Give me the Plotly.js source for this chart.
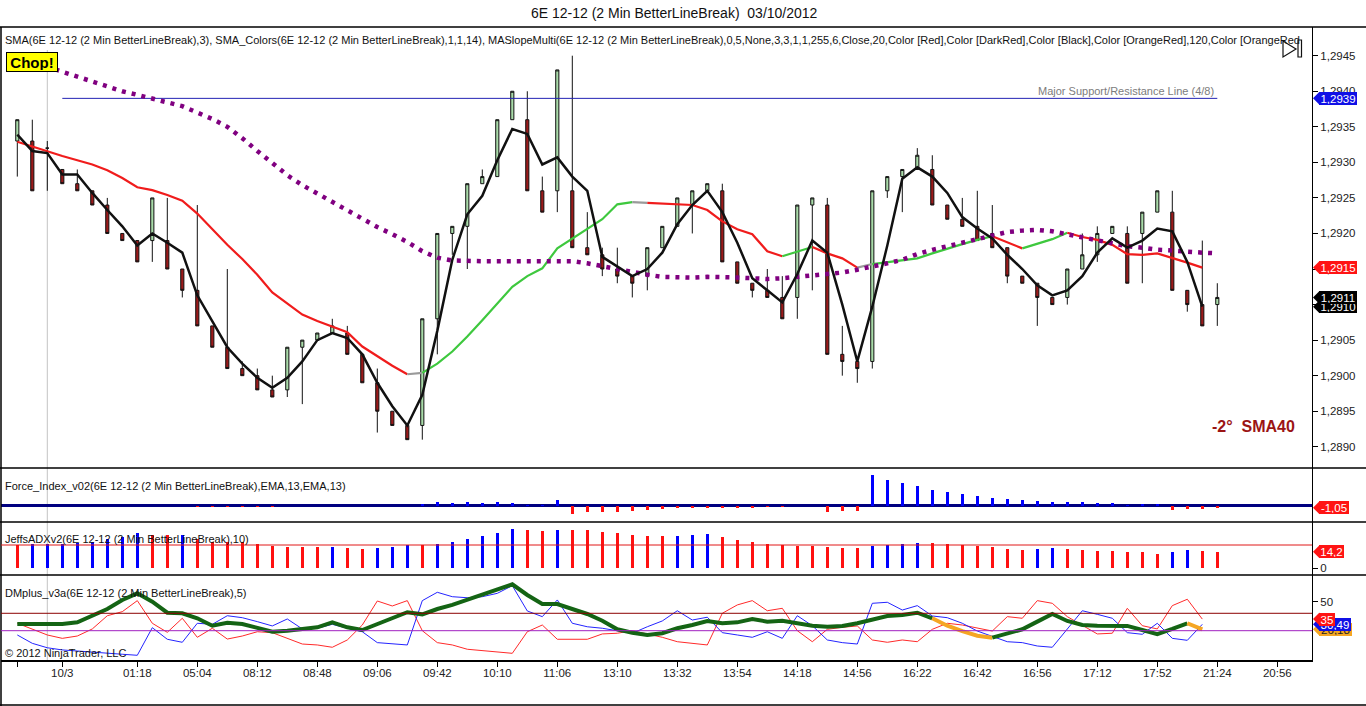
<!DOCTYPE html>
<html>
<head>
<meta charset="utf-8">
<script src="https://cdn.plot.ly/plotly-3.0.1.min.js"></script>
<style>
html,body{margin:0;padding:0;background:#fff;}
#chart{width:1366px;height:706px;}
</style>
</head>
<body>
<div id="chart"></div>
<script>
// ---------------- DATA ----------------
const OPEN  = [1.2933,1.2933,1.2932,1.2929,1.2927,1.2926,1.2924,1.2920,1.2919,1.2919,
               1.2919,1.2915,1.2912,1.2907,1.2904,1.2901,1.2900,1.2898,1.2898,1.2904,
               1.2905,1.2906,1.2906,1.2903,1.2899,1.2895,1.2893,1.2893,1.2908,1.2920,
               1.2921,1.2927,1.2928,1.2936,1.2936,1.2926,1.2926,1.2926,1.2918,1.2917,
               1.2915,1.2914,1.2914,1.2918,1.2921,1.2924,1.2926,1.2926,1.2916,1.2913,
               1.2912,1.2911,1.2911,1.2924,1.2924,1.2903,1.2902,1.2902,1.2926,1.2928,
               1.2929,1.2929,1.2924,1.2922,1.2921,1.2920,1.2918,1.2914,1.2913,1.2911,
               1.2911,1.2915,1.2917,1.2920,1.2920,1.2920,1.2923,1.2923,1.2912,1.2910,
               1.2910];
const HIGH  = [1.2936,1.2936,1.2933,1.2929,1.2929,1.2926,1.2925,1.2920,1.2919,1.2925,
               1.2925,1.2915,1.2924,1.2907,1.2915,1.2902,1.2901,1.2900,1.2904,1.2905,
               1.2906,1.2908,1.2907,1.2903,1.2901,1.2895,1.2893,1.2908,1.2920,1.2921,
               1.2927,1.2929,1.2936,1.2940,1.2940,1.2928,1.2943,1.2945,1.2923,1.2918,
               1.2918,1.2914,1.2918,1.2921,1.2925,1.2926,1.2927,1.2927,1.2916,1.2913,
               1.2915,1.2914,1.2924,1.2925,1.2925,1.2907,1.2902,1.2926,1.2928,1.2929,
               1.2932,1.2931,1.2924,1.2925,1.2926,1.2924,1.2918,1.2914,1.2913,1.2911,
               1.2915,1.2920,1.2921,1.2921,1.2921,1.2923,1.2926,1.2926,1.2912,1.2919,
               1.2913];
const LOW   = [1.2928,1.2926,1.2926,1.2927,1.2926,1.2924,1.2920,1.2919,1.2916,1.2916,
               1.2915,1.2911,1.2907,1.2904,1.2901,1.2900,1.2898,1.2897,1.2897,1.2896,
               1.2905,1.2906,1.2903,1.2899,1.2892,1.2893,1.2891,1.2891,1.2903,1.2917,
               1.2915,1.2927,1.2928,1.2936,1.2926,1.2923,1.2923,1.2918,1.2917,1.2914,
               1.2913,1.2911,1.2912,1.2918,1.2921,1.2920,1.2926,1.2916,1.2913,1.2911,
               1.2911,1.2908,1.2908,1.2912,1.2903,1.2900,1.2899,1.2901,1.2925,1.2923,
               1.2929,1.2924,1.2922,1.2921,1.2919,1.2918,1.2913,1.2913,1.2907,1.2910,
               1.2910,1.2915,1.2916,1.2920,1.2913,1.2913,1.2923,1.2912,1.2909,1.2907,
               1.2907];
const CLOSE = [1.2936,1.2926,1.2932,1.2927,1.2926,1.2924,1.2920,1.2919,1.2916,1.2925,
               1.2915,1.2912,1.2907,1.2904,1.2901,1.2900,1.2898,1.2897,1.2904,1.2905,
               1.2906,1.2907,1.2903,1.2899,1.2895,1.2893,1.2891,1.2908,1.2920,1.2921,
               1.2927,1.2928,1.2936,1.2940,1.2926,1.2923,1.2943,1.2918,1.2917,1.2915,
               1.2914,1.2913,1.2918,1.2921,1.2925,1.2926,1.2927,1.2916,1.2913,1.2912,
               1.2911,1.2908,1.2924,1.2925,1.2903,1.2902,1.2901,1.2926,1.2928,1.2929,
               1.2931,1.2924,1.2922,1.2921,1.2919,1.2918,1.2914,1.2913,1.2911,1.2910,
               1.2915,1.2917,1.2920,1.2921,1.2913,1.2923,1.2926,1.2912,1.2910,1.2907,
               1.2911];

// SMA(3) as drawn (bars 0..79)
const SMA3 = [1.29339,1.29316,1.29313,1.29283,1.29283,1.29257,1.29233,1.29210,1.29183,1.29200,
              1.29187,1.29173,1.29113,1.29077,1.29040,1.29017,1.28997,1.28983,1.28997,1.29020,
              1.29050,1.29060,1.29053,1.29030,1.28990,1.28957,1.28930,1.28973,1.29063,1.29163,
              1.29227,1.29253,1.29303,1.29347,1.29340,1.29297,1.29307,1.29280,1.29260,1.29167,
              1.29153,1.29140,1.29150,1.29173,1.29213,1.29240,1.29260,1.29230,1.29187,1.29137,
              1.29120,1.29103,1.29143,1.29190,1.29173,1.29100,1.29020,1.29097,1.29183,1.29277,
              1.29293,1.29280,1.29257,1.29223,1.29207,1.29193,1.29170,1.29150,1.29127,1.29113,
              1.29120,1.29140,1.29173,1.29193,1.29180,1.29190,1.29207,1.29203,1.29160,1.29097];

// SMA_Colors(14) as drawn (bars 0..79) and its slope state per segment (D=falling, U=rising, F=flat)
const SMA14 = [1.29329,1.29322,1.29315,1.29309,1.29303,1.29297,1.29289,1.29278,1.29265,1.29261,
               1.29254,1.29246,1.29228,1.29206,1.29184,1.29164,1.29142,1.29117,1.29101,1.29086,
               1.29077,1.29069,1.29061,1.29041,1.29027,1.29014,1.29002,1.29004,1.29017,1.29034,
               1.29055,1.29078,1.29102,1.29125,1.29140,1.29151,1.29179,1.29193,1.29206,1.29220,
               1.29241,1.29244,1.29243,1.29242,1.29241,1.29240,1.29233,1.29217,1.29206,1.29199,
               1.29175,1.29168,1.29174,1.29181,1.29172,1.29165,1.29152,1.29157,1.29160,1.29163,
               1.29165,1.29172,1.29179,1.29185,1.29191,1.29196,1.29188,1.29179,1.29186,1.29192,
               1.29201,1.29195,1.29191,1.29184,1.29171,1.29170,1.29172,1.29166,1.29159,1.29152];
const SMA14_STATE = ("DDDDDDDDDDDDDDDDDDDDDDDDDDD" + "F" + "UUUUUUUUUUUUUU" + "F" + "DDDDDDDDD" +
                     "UU" + "DDD" + "F" + "UUUUUUUU" + "DD" + "UUU" + "DDDDDDDDD").split("");

// MASlopeMulti SMA40 (dotted), bars 0..80
const SMA40 = [1.29448,1.29441,1.29435,1.29428,1.29421,1.29413,1.29406,1.29400,1.29395,1.29390,
               1.29385,1.29379,1.29370,1.29361,1.29350,1.29334,1.29316,1.29298,1.29282,1.29268,
               1.29256,1.29244,1.29233,1.29220,1.29209,1.29199,1.29188,1.29175,1.29166,1.29162,
               1.29161,1.29161,1.29161,1.29161,1.29161,1.29161,1.29161,1.29161,1.29158,1.29154,
               1.29149,1.29145,1.29142,1.29139,1.29138,1.29138,1.29139,1.29139,1.29138,1.29137,
               1.29136,1.29137,1.29139,1.29142,1.29143,1.29145,1.29149,1.29153,1.29158,1.29163,
               1.29171,1.29177,1.29182,1.29187,1.29191,1.29197,1.29202,1.29204,1.29205,1.29203,
               1.29199,1.29195,1.29191,1.29187,1.29182,1.29180,1.29177,1.29176,1.29174,1.29173,
               1.29172];

const SUPPORT_LEVEL = 1.2939;
const SUPPORT_BARS = [3, 80];
const SESSION_BAR = 2;

// Force Index (bars 0..80)
const FORCE = [-0.3,-0.3,-0.3,0,0,0,0,0,0,0,
               0,0,-0.6,-0.6,-0.6,-0.6,-0.6,-0.6,0,0,
               0,0,0,0,0,0,0,0.85,1.85,1.35,
               1.85,1.35,1.85,1.35,0.2,0.2,2.85,-4.3,-3.3,-3.0,
               -3.0,-2.5,-2.0,-1.5,-1.0,-1.0,-1.0,-1.0,-1.0,-1.0,
               -0.7,-0.7,-0.2,-0.2,-3.0,-2.6,-2.6,15.35,12.85,11.5,
               10,7.85,7,6,5,4,3.35,2.85,2.5,1.85,
               1.85,1.7,1.35,1.35,0.2,1.0,1.0,-2.15,-1.5,-1.5,
               -1.05];

// JeffsADX (bars 0..80) and direction (B = +DI leads, R = -DI leads)
const ADX = [20.0,20.9,20.9,20.9,21.5,22.8,24.9,27.1,30.6,28.6,
             28.6,28.6,24.9,22.8,22.8,22.8,20.9,19.4,18.5,18.5,
             18.5,18.5,17.7,16.6,17.7,18.5,20.0,20.0,20.9,22.8,
             25.2,27.7,30.6,33.7,32.9,32.3,32.9,32.9,32.9,30.9,
             30.0,28.6,27.7,27.7,27.7,28.6,29.4,27.1,24.3,22.8,
             20.9,20.0,19.4,19.4,18.0,17.2,17.2,19.4,20.0,20.9,
             22.0,22.0,20.9,20.0,19.4,18.0,16.6,15.7,16.6,17.4,
             16.6,15.7,15.1,15.1,14.0,14.0,12.3,14.0,15.7,15.1,
             14.2];
const ADX_DIR = ("R" + "BBBBBBBB" + "RR" + "B" + "RRRRRRRRR" + "B" + "RR" + "BBB" + "R" + "BBBBBB" +
                 "RR" + "B" + "RRRRRRR" + "BBB" + "RRRRRRRRRR" + "BBBB" + "RRRRRRR" + "BB" +
                 "RRRRRRR" + "BB" + "RR").split("");
const ADX_LEVEL = 20;

// DMplus (bars 0..79)
const DM_PLUS = [21.3,14.1,10.3,8.4,7.5,6.4,5.5,4.7,3.8,27.6,
                 17.6,15.0,31.4,30.5,37.9,36.2,32.8,29.1,35.1,26.5,
                 27.1,30.5,27.1,24.1,14.7,13.5,12.7,50.9,58.1,54.3,
                 53.4,54.3,57.2,63.8,42.0,37.1,51.5,31.4,28.4,27.1,
                 25.0,22.8,28.4,33.4,42.2,34.2,36.6,23.3,21.3,19.3,
                 24.1,18.4,37.9,29.3,17.0,14.7,13.5,48.6,49.5,42.8,
                 46.6,37.7,36.2,31.4,24.7,19.8,15.5,14.7,11.8,10.7,
                 26.5,42.2,39.1,35.7,23.3,21.9,31.4,18.4,16.7,30.49];
const DM_MINUS = [31.4,26.2,21.3,18.4,20.4,26.5,37.9,41.4,50.9,31.4,
                  23.6,35.7,19.3,27.1,17.8,20.4,24.1,23.3,18.4,13.5,
                  12.7,10.7,17.0,29.9,50.6,46.3,50.9,25.0,14.7,12.7,
                  9.0,7.8,6.9,5.5,24.1,29.9,17.6,17.6,17.6,22.2,
                  22.8,25.0,22.2,19.3,15.5,14.1,12.7,40.0,47.2,50.9,
                  42.2,44.3,25.0,15.5,26.2,27.9,29.1,17.0,15.0,17.0,
                  15.5,26.2,31.4,29.9,27.1,24.7,37.1,35.7,50.9,48.6,
                  37.1,29.3,22.2,22.8,44.3,29.3,26.5,46.6,52.1,35];
const DM_ADX = [30.8,30.8,30.8,30.8,32.2,37.7,43.7,51.5,57.2,50.0,
                40.5,40.0,35.7,29.3,31.9,30.8,27.1,24.1,25.0,26.2,
                27.9,32.2,27.9,25.6,30.5,35.7,40.9,39.1,43.7,47.2,
                51.5,55.8,60.1,65.0,55.8,48.0,48.0,43.4,39.4,33.6,
                26.2,23.3,21.3,22.8,27.1,29.9,33.4,31.4,32.2,35.1,
                32.8,33.6,31.4,29.3,28.4,29.1,31.4,34.2,37.7,38.5,
                40.5,35.7,29.3,24.7,20.7,19.0,22.8,26.2,32.8,39.4,
                33.4,29.9,29.3,29.3,29.1,25.6,22.1,26.5,31.4,26.18];
const DM_ADX_STATE = ("GGGGGGGGGGGGGGGGGGGGGGGGGGGGGGGGGGGGGGGGGGGGGGGGGGGGGGGGGGGGGG" +
                      "OOOO" + "GGGGGGGGGGGGG" + "O").split("");
const DM_LEVELS = [40, 25];

// Axis ticks
const TIME_TICK_BARS = [0,3,8,12,16,20,24,28,32,36,40,44,48,52,56,60,64,68,72,76,80,84];
const TIME_TICK_TEXT = ["","10/3","01:18","05:04","08:12","08:48","09:06","09:42","10:10","11:06",
                        "13:10","13:32","13:54","14:18","14:56","16:22","16:42","16:56","17:12",
                        "17:52","21:24","20:56"];
const PRICE_TICKS = [1.2890,1.2895,1.2900,1.2905,1.2910,1.2915,1.2920,1.2925,1.2930,1.2935,1.2940,1.2945];
const PRICE_TICK_TEXT = ["1,2890","1,2895","1,2900","1,2905","1,2910","1,2915","1,2920","1,2925","1,2930","1,2935","1,2940","1,2945"];

// Texts
const TITLE = "6E 12-12 (2 Min BetterLineBreak)\u00a0 03/10/2012";
const MAIN_LABEL = "SMA(6E 12-12 (2 Min BetterLineBreak),3), SMA_Colors(6E 12-12 (2 Min BetterLineBreak),1,1,14), MASlopeMulti(6E 12-12 (2 Min BetterLineBreak),0,5,None,3,3,1,1,255,6,Close,20,Color [Red],Color [DarkRed],Color [Black],Color [OrangeRed],120,Color [OrangeRed";
const FORCE_LABEL = "Force_Index_v02(6E 12-12 (2 Min BetterLineBreak),EMA,13,EMA,13)";
const ADX_LABEL = "JeffsADXv2(6E 12-12 (2 Min BetterLineBreak),10)";
const DM_LABEL = "DMplus_v3a(6E 12-12 (2 Min BetterLineBreak),5)";
const COPYRIGHT = "\u00a9 2012 NinjaTrader, LLC";
const SUPPORT_TEXT = "Major Support/Resistance Line (4/8)";
const SLOPE_TEXT = "-2\u00b0\u00a0 SMA40";

// ---------------- GEOMETRY / STYLE ----------------
const PL = 1, PR = 1312, PT = 27, PB = 660;
const PW = PR - PL, PH = PB - PT;
const px = x => (x - PL) / PW;
const py = y => (PB - y) / PH;
const FONT = 'Arial, "Liberation Sans", sans-serif';
const BAR0_PX = 17.3, BAR_STEP = 15;

const DOM_MAIN = [py(468), 1];
const DOM_FORCE = [py(522), py(468)];
const DOM_ADX = [py(575), py(522)];
const DOM_DM = [0, py(575)];
const R_MAIN = [1.2887015, 1.2949036];
const R_FORCE = [-8.15, 18.85];
const R_ADX = [-5.75, 39.74];
const R_DM = [-0.26, 73.0];

const bars = n => Array.from({length: n}, (_, i) => i);

function segTraces(vals, states, colorMap, lw, yaxis) {
  const out = []; let a = 1;
  for (let k = 1; k < vals.length; k++) {
    if (k === vals.length - 1 || states[k + 1] !== states[k]) {
      const xs = [], ys = [];
      for (let j = a - 1; j <= k; j++) { xs.push(j); ys.push(vals[j]); }
      out.push({type:'scatter', mode:'lines', x:xs, y:ys, xaxis:'x', yaxis:yaxis,
        line:{color:colorMap[states[k]], width:lw}, hoverinfo:'skip', showlegend:false});
      a = k + 1;
    }
  }
  return out;
}

const traces = [];
traces.push({
  type:'candlestick', x:bars(OPEN.length), open:OPEN, high:HIGH, low:LOW, close:CLOSE,
  xaxis:'x', yaxis:'y', whiskerwidth:0,
  increasing:{line:{color:'#111', width:1}, fillcolor:'#a9dca9'},
  decreasing:{line:{color:'#111', width:1}, fillcolor:'#9c1a1a'},
  hoverinfo:'skip', showlegend:false
});
traces.push({type:'scatter', mode:'lines', x:SUPPORT_BARS, y:[SUPPORT_LEVEL, SUPPORT_LEVEL],
  xaxis:'x', yaxis:'y', line:{color:'#2323b4', width:1}, hoverinfo:'skip', showlegend:false});
segTraces(SMA14, SMA14_STATE, {D:'#f01c1c', U:'#3ec83e', F:'#9a9a9a'}, 2.2, 'y').forEach(t => traces.push(t));
traces.push({type:'scatter', mode:'lines', x:bars(SMA40.length), y:SMA40, xaxis:'x', yaxis:'y',
  line:{color:'#800080', width:4.5, dash:'4px,6px'}, hoverinfo:'skip', showlegend:false});
traces.push({type:'scatter', mode:'lines', x:bars(SMA3.length), y:SMA3, xaxis:'x', yaxis:'y',
  line:{color:'#111', width:2.5}, hoverinfo:'skip', showlegend:false});

traces.push({type:'bar', x:bars(FORCE.length), y:FORCE, xaxis:'x', yaxis:'y2', width:0.2,
  marker:{color:FORCE.map(v => v >= 0 ? '#0000ff' : '#ff1010'), line:{width:0}},
  hoverinfo:'skip', showlegend:false});

traces.push({type:'bar', x:bars(ADX.length), y:ADX, xaxis:'x', yaxis:'y3', width:0.2,
  marker:{color:ADX_DIR.map(d => d === 'B' ? '#0000ff' : '#ff1010'), line:{width:0}},
  hoverinfo:'skip', showlegend:false});

traces.push({type:'scatter', mode:'lines', x:bars(DM_MINUS.length), y:DM_MINUS, xaxis:'x', yaxis:'y4',
  line:{color:'#ff2a2a', width:1}, hoverinfo:'skip', showlegend:false});
traces.push({type:'scatter', mode:'lines', x:bars(DM_PLUS.length), y:DM_PLUS, xaxis:'x', yaxis:'y4',
  line:{color:'#2424ff', width:1}, hoverinfo:'skip', showlegend:false});
segTraces(DM_ADX, DM_ADX_STATE, {G:'#146414', O:'#f5a623'}, 4, 'y4').forEach(t => traces.push(t));

// ---------- shapes ----------
const shapes = [];
const hline = (y, color, w, x0, x1) => ({type:'line', xref:'paper', yref:'paper',
  x0:px(x0 === undefined ? 0 : x0), x1:px(x1 === undefined ? 1366 : x1), y0:py(y), y1:py(y),
  line:{color:color, width:w}});
shapes.push({type:'line', xref:'x', yref:'paper', x0:SESSION_BAR, x1:SESSION_BAR, y0:py(PB), y1:py(50),
  line:{color:'#c4c4c4', width:1}, layer:'below'});
[27, 468, 522, 575].forEach(y => shapes.push(hline(y, '#000', 1.5)));
shapes.push(hline(705, '#000', 1.5));
shapes.push({type:'line', xref:'paper', yref:'paper', x0:px(1), x1:px(1), y0:py(27), y1:py(706),
  line:{color:'#000', width:1.5}});
shapes.push({type:'line', xref:'paper', yref:'y3', x0:0, x1:1, y0:ADX_LEVEL, y1:ADX_LEVEL,
  line:{color:'#e01818', width:1}});
shapes.push({type:'line', xref:'paper', yref:'y4', x0:0, x1:1, y0:DM_LEVELS[0], y1:DM_LEVELS[0],
  line:{color:'#8b0000', width:1}});
shapes.push({type:'line', xref:'paper', yref:'y4', x0:0, x1:1, y0:DM_LEVELS[1], y1:DM_LEVELS[1],
  line:{color:'#a020c0', width:1}});
// play-to-end icon
shapes.push({type:'path', xref:'paper', yref:'paper',
  path:`M ${px(1283)},${py(41)} L ${px(1283)},${py(57)} L ${px(1296)},${py(49)} Z`,
  line:{color:'#111', width:1.2}, fillcolor:'rgba(0,0,0,0)'});
shapes.push({type:'rect', xref:'paper', yref:'paper', x0:px(1298), x1:px(1301.5), y0:py(57), y1:py(40),
  line:{color:'#111', width:1.2}});

// ---------- annotations ----------
const ann = [];
const txt = (x, y, text, opts) => Object.assign({xref:'paper', yref:'paper', x:px(x), y:py(y),
  xanchor:'left', yanchor:'middle', text:text, showarrow:false,
  font:{family:FONT, size:11, color:'#111'}}, opts || {});
ann.push(txt(674, 13, TITLE, {xanchor:'center', font:{family:FONT, size:14, color:'#111'}}));
ann.push(txt(3, 40, MAIN_LABEL));
ann.push(txt(3, 486, FORCE_LABEL));
ann.push(txt(3, 539, ADX_LABEL));
ann.push(txt(3, 593, DM_LABEL));
ann.push(txt(3, 653, COPYRIGHT));
ann.push(txt(1216, 91, SUPPORT_TEXT, {xanchor:'right', font:{family:FONT, size:11, color:'#7c7c7c'}}));
ann.push(txt(1297, 426.5, '<b>' + SLOPE_TEXT + '</b>', {xanchor:'right', font:{family:FONT, size:16, color:'#9b1414'}}));
ann.push(txt(6, 62, '<b>Chop!</b>', {font:{family:FONT, size:15, color:'#000'}, bgcolor:'#ffff00',
  bordercolor:'#000', borderwidth:1, borderpad:1, width:48, height:16}));

// right-axis value markers
function marker(axis, range, dom, value, text, color, wpx, textColor) {
  const unitsPerPx = (range[1] - range[0]) / ((dom[1] - dom[0]) * PH);
  const d = 6.5 * unitsPerPx;
  shapes.push({type:'path', xref:'paper', yref:axis,
    path:`M ${px(1313)},${value} L ${px(1319.5)},${value + d} L ${px(1319.5)},${value - d} Z`,
    line:{width:0}, fillcolor:color});
  ann.push({xref:'paper', yref:axis, x:px(1319), y:value, xanchor:'left', yanchor:'middle',
    text:text, showarrow:false, bgcolor:color, borderpad:1, borderwidth:0, width:wpx, height:11,
    font:{family:FONT, size:11.5, color:textColor || '#fff'}});
}
marker('y', R_MAIN, DOM_MAIN, SUPPORT_LEVEL, '1,2939', '#1010e6', 36);
marker('y', R_MAIN, DOM_MAIN, SMA14[SMA14.length - 1], '1,2915', '#ff1414', 36);
marker('y', R_MAIN, DOM_MAIN, SMA3[SMA3.length - 1], '1,2910', '#000', 36);
marker('y', R_MAIN, DOM_MAIN, CLOSE[CLOSE.length - 1], '1,2911', '#000', 36);
marker('y2', R_FORCE, DOM_FORCE, FORCE[FORCE.length - 1], '-1,05', '#ff1414', 28);
marker('y3', R_ADX, DOM_ADX, ADX[ADX.length - 1], '14,2', '#ff1414', 23);
marker('y4', R_DM, DOM_DM, DM_ADX[DM_ADX.length - 1], '26,18', '#f5a623', 31, '#222');
marker('y4', R_DM, DOM_DM, DM_PLUS[DM_PLUS.length - 1], '30,49', '#1010e6', 30);
marker('y4', R_DM, DOM_DM, DM_MINUS[DM_MINUS.length - 1], '35', '#ff1414', 14);

const yBase = {side:'right', anchor:'x', showgrid:false, zeroline:false, showline:true,
  linecolor:'#000', linewidth:1, ticks:'outside', ticklen:5, tickcolor:'#000',
  tickfont:{family:FONT, size:11.5, color:'#222'}, fixedrange:true};

const layout = {
  width:1366, height:706, paper_bgcolor:'#fff', plot_bgcolor:'#fff',
  margin:{l:PL, r:1366 - PR, t:PT, b:706 - PB, pad:0},
  showlegend:false, separators:', ', boxgap:0.79, boxgroupgap:0, bargap:0,
  font:{family:FONT, size:11, color:'#111'},
  xaxis:{domain:[0,1], anchor:'y4', range:[(PL - BAR0_PX) / BAR_STEP, (PR - BAR0_PX) / BAR_STEP],
    showgrid:false, zeroline:false, showline:true, linecolor:'#000', linewidth:1.5,
    tickmode:'array', tickvals:TIME_TICK_BARS, ticktext:TIME_TICK_TEXT, ticks:'outside', ticklen:5,
    tickcolor:'#000', tickfont:{family:FONT, size:11.5, color:'#222'}, ticklabelstandoff:-3,
    rangeslider:{visible:false}, fixedrange:true},
  yaxis: Object.assign({}, yBase, {domain:DOM_MAIN, range:R_MAIN, tickmode:'array',
    tickvals:PRICE_TICKS, ticktext:PRICE_TICK_TEXT}),
  yaxis2: Object.assign({}, yBase, {domain:DOM_FORCE, range:R_FORCE, tickmode:'array', tickvals:[],
    zeroline:true, zerolinecolor:'#000080', zerolinewidth:2.5}),
  yaxis3: Object.assign({}, yBase, {domain:DOM_ADX, range:R_ADX, tickmode:'array', tickvals:[0], ticktext:['0']}),
  yaxis4: Object.assign({}, yBase, {domain:DOM_DM, range:R_DM, tickmode:'array', tickvals:[50], ticktext:['50']}),
  shapes:shapes, annotations:ann
};

Plotly.newPlot('chart', traces, layout, {staticPlot:true, displayModeBar:false});
</script>
</body>
</html>
